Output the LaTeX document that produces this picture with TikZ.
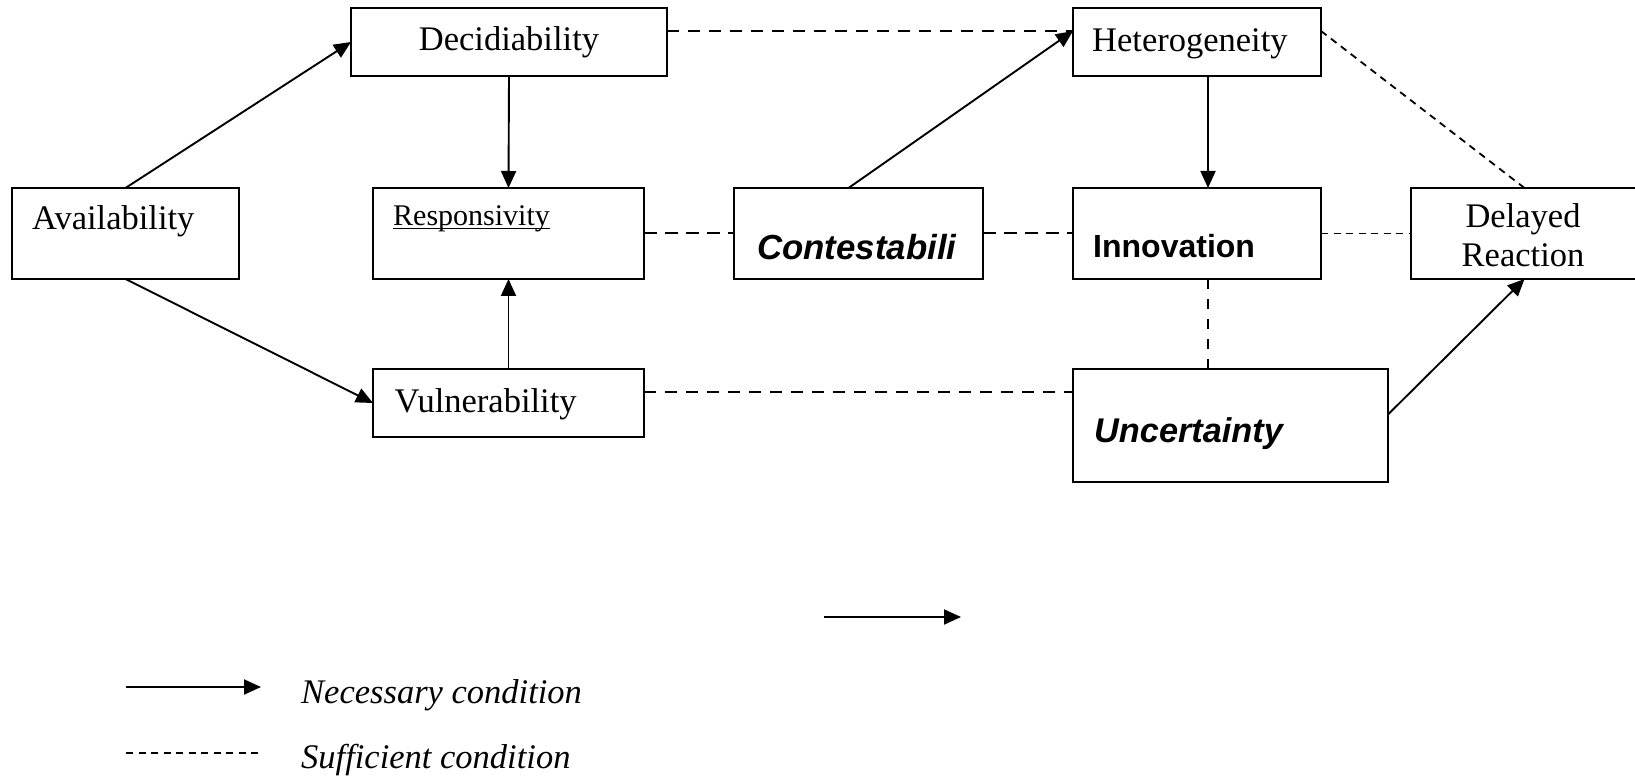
\documentclass[tikz,border=0pt]{standalone}
\usepackage{fontspec}
\setmainfont{Liberation Serif}
\newfontfamily\helv{Liberation Sans}
\usetikzlibrary{arrows.meta}
% word underline that sits just under the baseline and crosses descenders
\newcommand\ulword[1]{\leavevmode\setbox0\hbox{#1}\rlap{\rule[-3.5pt]{\wd0}{1.3pt}}\box0}
\begin{document}
\begin{tikzpicture}[x=1pt,y=-1pt,
  box/.style={draw, line width=2pt, anchor=north west, inner sep=0pt, outer sep=0pt},
  txt/.style={inner sep=0pt, anchor=base west, font=\fontsize{34.5}{40}\selectfont},
  nec/.style={line width=1.9pt, -{Triangle[length=17pt,width=15pt]}},
  dmid/.style={line width=2pt, dash pattern=on 12pt off 9pt},
  dlong/.style={line width=2pt, dash pattern=on 13pt off 8pt},
  dvert/.style={line width=2pt, dash pattern=on 10pt off 10pt},
  dshort/.style={line width=1.8pt, dash pattern=on 7pt off 5.5pt}]
\clip (0,0) rectangle (1635,783);
\fill[white] (0,0) rectangle (1635,783);

% boxes
\node[box, minimum width=316pt, minimum height=68pt] (dec)   at (351,8)    {};
\node[box, minimum width=227pt, minimum height=91pt] (avail) at (12,188)   {};
\node[box, minimum width=271pt, minimum height=91pt] (resp)  at (373,188)  {};
\node[box, minimum width=249pt, minimum height=91pt] (cont)  at (734,188)  {};
\node[box, minimum width=248pt, minimum height=68pt] (het)   at (1073,8)   {};
\node[box, minimum width=248pt, minimum height=91pt] (innov) at (1073,188) {};
\node[box, minimum width=227pt, minimum height=91pt] (delay) at (1411,188) {};
\node[box, minimum width=271pt, minimum height=68pt] (vuln)  at (373,369)  {};
\node[box, minimum width=315pt, minimum height=113pt] (unc)  at (1073,369) {};

% box texts
\node[txt, anchor=base] (tdec) at (509,51) {Decidiability};
\node[txt] (tavail) at (32,230) {Availability};
\node[txt, font=\fontsize{30}{36}\selectfont] (tresp) at (393,225.5) {\ulword{Responsivity}};
\node[txt, font=\helv\bfseries\itshape\fontsize{34.8}{40}\selectfont] (tcont) at (757,260) {Contestabili};
\node[txt] (thet) at (1092,52) {Heterogeneity};
\node[txt, font=\helv\bfseries\fontsize{32}{38}\selectfont] (tinnov) at (1093,258) {Innovation};
\node[txt, anchor=base] (tdel1) at (1523,228) {Delayed};
\node[txt, anchor=base] (tdel2) at (1523,267) {Reaction};
\node[txt] (tvuln) at (394.5,412) {Vulnerability};
\node[txt, font=\helv\bfseries\itshape\fontsize{34.3}{40}\selectfont] (tunc) at (1094,442) {Uncertainty};

% necessary conditions
\draw[nec] (avail.north) -- (dec.west);
\draw[nec] (avail.south) -- (vuln.west);
\draw[nec] (dec.south) -- (resp.north);
\draw[nec] (vuln.north) -- (resp.south);
\draw[nec] ([xshift=-10pt]cont.north) -- ([yshift=11pt]het.west);
\draw[nec] ([xshift=11pt]het.south) -- ([xshift=11pt]innov.north);
\draw[nec] ([yshift=11pt]unc.east) -- (delay.south);

% sufficient conditions
\draw[dmid] ([yshift=11pt]dec.east) -- ([yshift=11pt]het.west);
\draw[dshort] ([yshift=11pt]het.east) -- (delay.north);
\draw[dlong] (resp.east) -- (cont.west);
\draw[dlong] (cont.east) -- (innov.west);
\draw[dshort] (innov.east) -- (delay.west);
\draw[dvert] ([xshift=11pt]innov.south) -- ([xshift=11pt]innov.south |- unc.north);
\draw[dmid] ([yshift=11pt]vuln.east) -- ([yshift=11pt]vuln.east -| unc.west);

% loose arrow
\coordinate (sa) at (824,617);
\coordinate (sb) at (961,617);
\draw[nec] (sa) -- (sb);

% legend
\coordinate (la) at (126,687);
\coordinate (lb) at (261,687);
\draw[nec] (la) -- (lb);
\coordinate (lc) at (126,753);
\coordinate (ld) at (260,753);
\draw[dshort] (lc) -- (ld);
\node[txt, font=\itshape\fontsize{34.5}{40}\selectfont] (tnec) at (301,703) {Necessary condition};
\node[txt, font=\itshape\fontsize{34.5}{40}\selectfont] (tsuf) at (301,768) {Sufficient condition};
\end{tikzpicture}
\end{document}
